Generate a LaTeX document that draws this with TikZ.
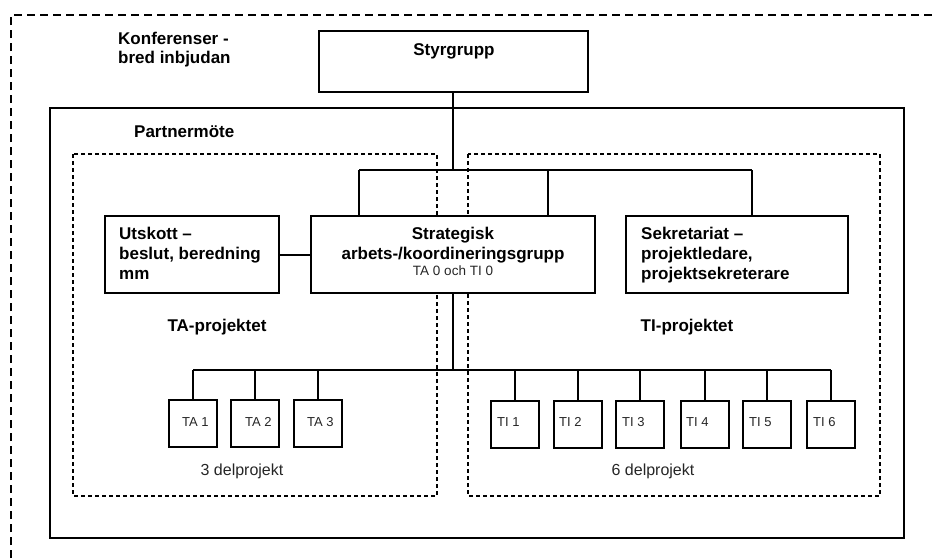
\documentclass[tikz,border=0pt]{standalone}
\usepackage{fontspec}
\setmainfont{Liberation Sans}
\begin{document}
\begin{tikzpicture}[x=1pt,y=-1pt,
  bx/.style={draw,line width=2pt,fill=white,inner sep=0pt,rectangle},
  sbox/.style={bx,minimum width=48pt,minimum height=47pt},
  conn/.style={line width=2pt},
  thin conn/.style={line width=1.7pt},
  bigdash/.style={line width=2pt,dash pattern=on 8pt off 5pt},
  smalldash/.style={line width=1.3pt,dash pattern=on 4pt off 3pt},
  bt/.style={font=\fontsize{17}{20}\selectfont\bfseries,inner sep=0pt},
  st/.style={font=\fontsize{13.5}{16}\selectfont,inner sep=0pt,text=black!85},
  lt/.style={font=\fontsize{13}{16}\selectfont,inner sep=0pt,text=black!85,anchor=base west},
  dt/.style={font=\fontsize{16}{19}\selectfont,inner sep=0pt,text=black!85,anchor=base}
]
\useasboundingbox (0,0) rectangle (933,558);
% frames
\draw[bigdash] (11,558) -- (11,15) -- (933,15);
\draw[line width=1.5pt] (50,108) rectangle (904,538);
\draw[smalldash] (73,154) rectangle (437,496);
\draw[smalldash] (468,154) rectangle (880,496);
% connector points
\coordinate (busA) at (453,170);
\coordinate (busAL) at (359,170);
\coordinate (busAM) at (548,170);
\coordinate (busAR) at (752,170);
\coordinate (busB) at (453,370);
\coordinate (busBL) at (193,370);
\coordinate (busBR) at (831,370);
% boxes
\node[bx,minimum width=269pt,minimum height=61pt] (sty) at (453.5,61.5) {};
\node[bx,minimum width=174pt,minimum height=77pt] (uts) at (192,254.5) {};
\node[bx,minimum width=284pt,minimum height=77pt] (strat) at (453,254.5) {};
\node[bx,minimum width=222pt,minimum height=77pt] (sek) at (737,254.5) {};
\draw[conn] (sty.south -| busA) -- (busA);
\draw[conn] (busAL) -- (busAR);
\draw[conn] (busAL) -- (busAL |- strat.north);
\draw[conn] (busAM) -- (busAM |- strat.north);
\draw[conn] (busAR) -- (busAR |- sek.north);
\draw[conn] (uts.east) -- (strat.west);
\draw[conn] (strat.south) -- (busB);
\draw[thin conn] (busBL) -- (busBR);
% small boxes
\foreach \n/\x/\y in {ta1/193/423.5,ta2/255/423.5,ta3/318/423.5,
  ti1/515/424.5,ti2/578/424.5,ti3/640/424.5,ti4/705/424.5,ti5/767/424.5,ti6/831/424.5}{
  \node[sbox] (\n) at (\x,\y) {};
  \draw[thin conn] (\n.north) -- (\n.north |- busB);
}
% texts
\node[bt,anchor=base west] (t1) at (118,44) {Konferenser -};
\node[bt,anchor=base west] (t2) at (118,63) {bred inbjudan};
\node[bt,anchor=base] (t3) at (454,55) {Styrgrupp};
\node[bt,anchor=base west] (t4) at (134,137) {Partnermöte};
\node[bt,anchor=base west] (t5) at (119,239) {Utskott –};
\node[bt,anchor=base west] (t6) at (119,259) {beslut, beredning};
\node[bt,anchor=base west] (t7) at (119,279) {mm};
\node[bt,anchor=base] (t8) at (453,239) {Strategisk};
\node[bt,anchor=base] (t9) at (453,259) {arbets-/koordineringsgrupp};
\node[st,anchor=base] (t10) at (453,275) {TA 0 och TI 0};
\node[bt,anchor=base west] (t11) at (641,239) {Sekretariat –};
\node[bt,anchor=base west] (t12) at (641,259) {projektledare,};
\node[bt,anchor=base west] (t13) at (641,279) {projektsekreterare};
\node[bt,anchor=base] (t14) at (217,331) {TA-projektet};
\node[bt,anchor=base] (t15) at (687,331) {TI-projektet};
\node[dt] (t16) at (242,475) {3 delprojekt};
\node[dt] (t17) at (653,475) {6 delprojekt};
\node[lt] (l1) at (182,426) {TA 1};
\node[lt] (l2) at (245,426) {TA 2};
\node[lt] (l3) at (307,426) {TA 3};
\node[lt] (l4) at (497,426) {TI 1};
\node[lt] (l5) at (559,426) {TI 2};
\node[lt] (l6) at (622,426) {TI 3};
\node[lt] (l7) at (686,426) {TI 4};
\node[lt] (l8) at (749,426) {TI 5};
\node[lt] (l9) at (813,426) {TI 6};
\end{tikzpicture}
\end{document}
